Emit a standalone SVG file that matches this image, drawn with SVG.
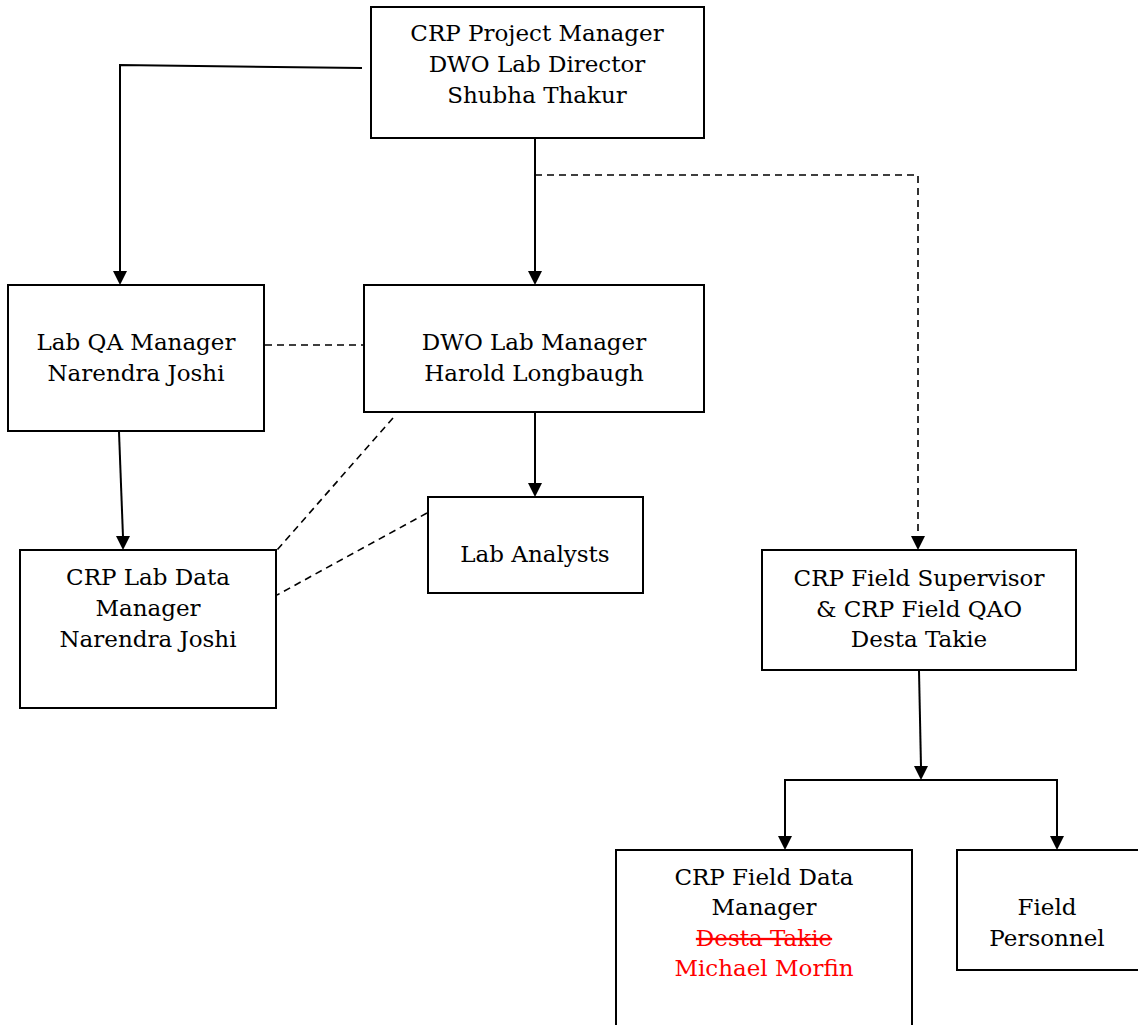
<svg xmlns="http://www.w3.org/2000/svg" width="1138" height="1025" viewBox="0 0 1138 1025">
  <style>
    .box { fill: #ffffff; stroke: #000000; stroke-width: 2; }
    .lbl { font-family: "DejaVu Serif", "Liberation Serif", serif; font-size: 23px; fill: #000000; text-anchor: middle; }
    .red { fill: #ff0000; }
    .solid { fill: none; stroke: #000000; stroke-width: 2; }
    .dash { fill: none; stroke: #000000; stroke-width: 1.6; stroke-dasharray: 7 5; }
    .tip { fill: #000000; }
  </style>

  <!-- connectors -->
  <g id="connectors">
    <path class="solid" d="M362,68 L120,65 L120,272"/>
    <path class="tip" d="M113,271 L127,271 L120,285 Z"/>
    <path class="solid" d="M535,139 L535,272"/>
    <path class="tip" d="M528,271 L542,271 L535,285 Z"/>
    <path class="dash" d="M535,175 L918,175 L918,538"/>
    <path class="tip" d="M911,536 L925,536 L918,550 Z"/>
    <path class="dash" d="M265,345 L363,345"/>
    <path class="solid" d="M119,432 L123,537"/>
    <path class="tip" d="M116,536 L130,536 L123,550 Z"/>
    <path class="solid" d="M535,413 L535,484"/>
    <path class="tip" d="M528,483 L542,483 L535,497 Z"/>
    <path class="dash" d="M393,418 L277,550"/>
    <path class="dash" d="M427,513 L277,595"/>
    <path class="solid" d="M919,671 L921,767"/>
    <path class="tip" d="M914,766 L928,766 L921,780 Z"/>
    <path class="solid" d="M785,837 L785,780 L1057,780 L1057,837"/>
    <path class="tip" d="M778,836 L792,836 L785,850 Z"/>
    <path class="tip" d="M1050,836 L1064,836 L1057,850 Z"/>
  </g>

  <g id="project-manager">
    <rect class="box" x="371" y="7" width="333" height="131"/>
    <text class="lbl" x="537" y="41">CRP Project Manager</text>
    <text class="lbl" x="537" y="72">DWO Lab Director</text>
    <text class="lbl" x="537" y="103">Shubha Thakur</text>
  </g>

  <g id="lab-qa-manager">
    <rect class="box" x="8" y="285" width="256" height="146"/>
    <text class="lbl" x="136" y="350">Lab QA Manager</text>
    <text class="lbl" x="136" y="381">Narendra Joshi</text>
  </g>

  <g id="lab-manager">
    <rect class="box" x="364" y="285" width="340" height="127"/>
    <text class="lbl" x="534" y="350">DWO Lab Manager</text>
    <text class="lbl" x="534" y="381">Harold Longbaugh</text>
  </g>

  <g id="lab-analysts">
    <rect class="box" x="428" y="497" width="215" height="96"/>
    <text class="lbl" x="535" y="562">Lab Analysts</text>
  </g>

  <g id="lab-data-manager">
    <rect class="box" x="20" y="550" width="256" height="158"/>
    <text class="lbl" x="148" y="585">CRP Lab Data</text>
    <text class="lbl" x="148" y="616">Manager</text>
    <text class="lbl" x="148" y="647">Narendra Joshi</text>
  </g>

  <g id="field-supervisor">
    <rect class="box" x="762" y="550" width="314" height="120"/>
    <text class="lbl" x="919" y="586">CRP Field Supervisor</text>
    <text class="lbl" x="919" y="617">&amp; CRP Field QAO</text>
    <text class="lbl" x="919" y="647">Desta Takie</text>
  </g>

  <g id="field-data-manager">
    <rect class="box" x="616" y="850" width="296" height="190"/>
    <text class="lbl" x="764" y="885">CRP Field Data</text>
    <text class="lbl" x="764" y="915">Manager</text>
    <text class="lbl red" x="764" y="946" text-decoration="line-through">Desta Takie</text>
    <text class="lbl red" x="764" y="976">Michael Morfin</text>
  </g>

  <g id="field-personnel">
    <rect class="box" x="957" y="850" width="190" height="120"/>
    <text class="lbl" x="1047" y="915">Field</text>
    <text class="lbl" x="1047" y="946">Personnel</text>
  </g>
</svg>
